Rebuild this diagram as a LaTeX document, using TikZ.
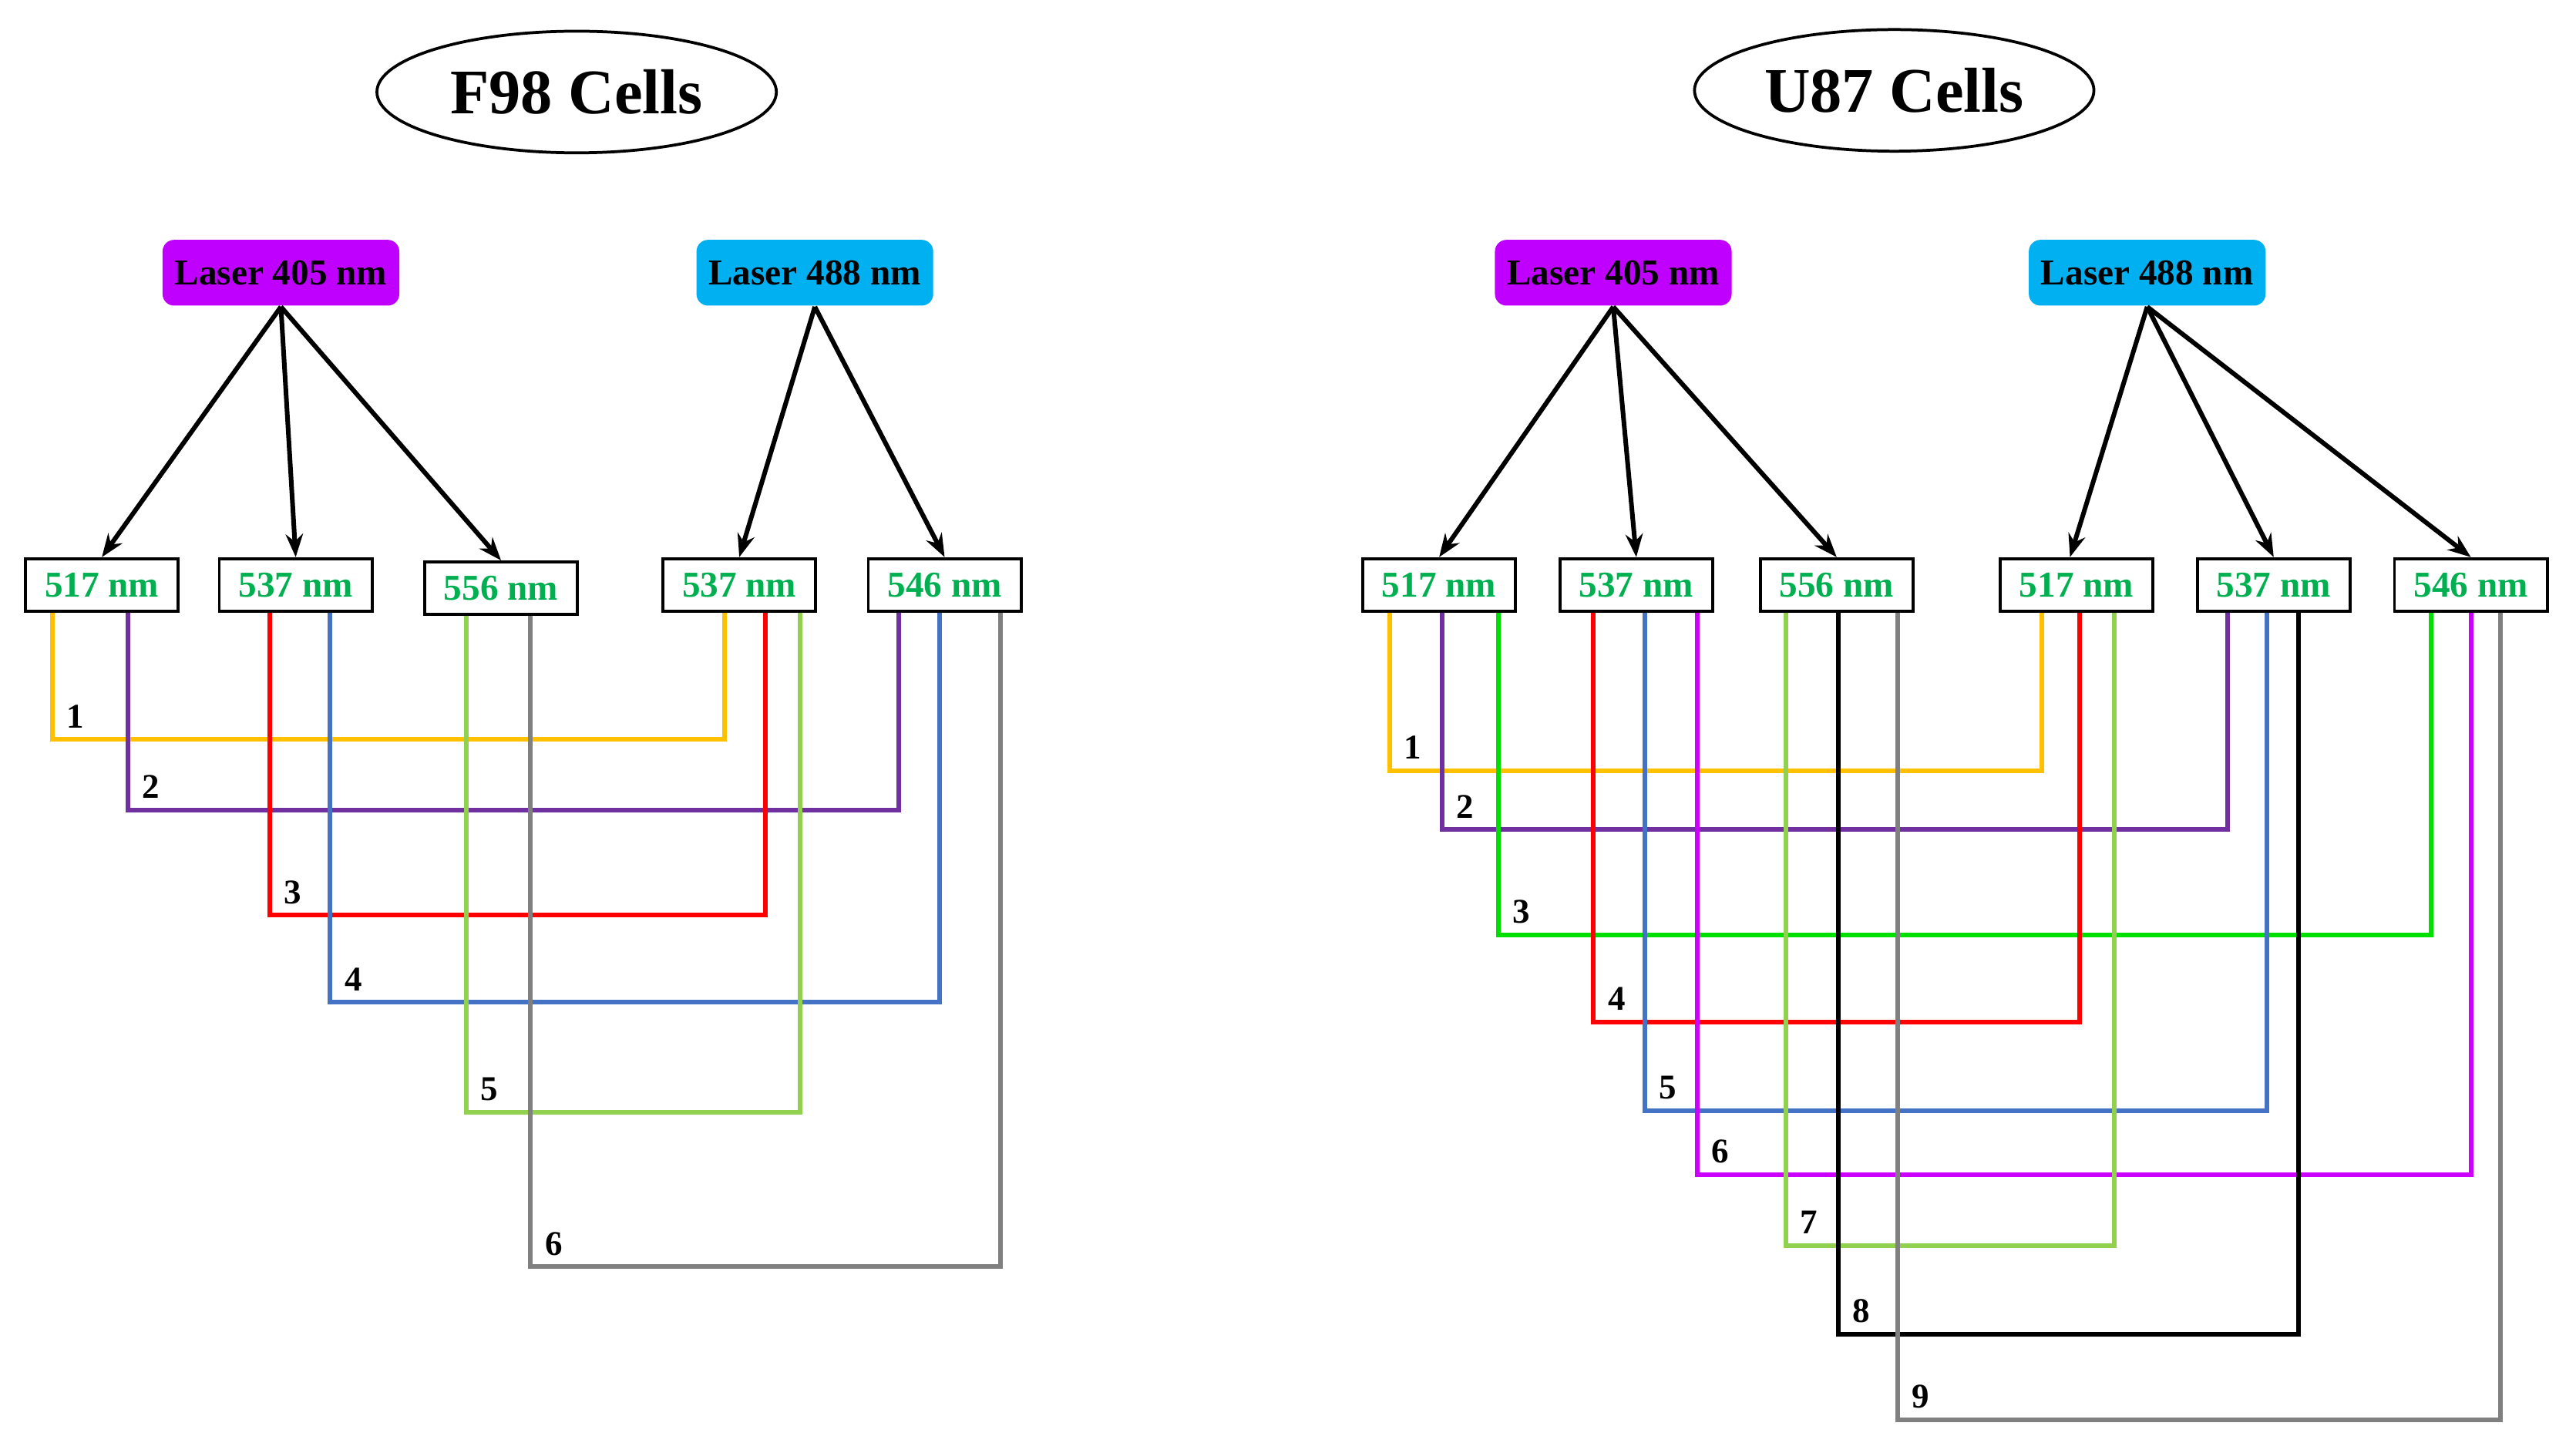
\documentclass[tikz,border=0pt]{standalone}
\usepackage{fontspec}
\setmainfont{Liberation Serif}
\usetikzlibrary{arrows.meta,shapes.geometric}
\definecolor{lpurple}{HTML}{C000FF}
\definecolor{lblue}{HTML}{00B0F0}
\definecolor{wgreen}{HTML}{00B050}
\definecolor{cy}{HTML}{FFC000}
\definecolor{cp}{HTML}{7030A0}
\definecolor{cr}{HTML}{FF0000}
\definecolor{cb}{HTML}{4472C4}
\definecolor{clg}{HTML}{92D050}
\definecolor{cgr}{HTML}{808080}
\definecolor{cg}{HTML}{00E000}
\definecolor{cmag}{HTML}{CC00FF}
\begin{document}
\begin{tikzpicture}[x=0.01cm,y=-0.01cm,
  title/.style={ellipse,draw,line width=0.5pt,minimum width=2.43cm,minimum height=0.74cm,inner sep=0pt,font=\fontsize{11}{12}\selectfont\bfseries},
  laser/.style={rounded corners=2pt,minimum width=1.44cm,minimum height=0.40cm,inner sep=0pt,font=\fontsize{6.3}{7}\selectfont\bfseries},
  wl/.style={draw,line width=0.5pt,minimum width=0.93cm,minimum height=0.32cm,inner sep=0pt,text=wgreen,font=\fontsize{6.3}{7}\selectfont\bfseries},
  arr/.style={line width=0.8pt,-{Stealth[length=4pt,width=3pt]}},
  cl/.style={line width=0.8pt},
  num/.style={font=\fontsize{6}{7}\selectfont\bfseries}]
\useasboundingbox (0,0) rectangle (1568,884);
\newcommand{\conn}[8]{%
  \draw[cl,#1] (#6.south -| #3,0) |- (#5,#4) -- (#7.south -| #5,0);
  \node[num] (n#8) at (#3+14,#4-14) {#2};}
% ---- Left
\node[title] (t1) at (351,56) {F98 Cells};
\node[laser,fill=lpurple] (a405) at (171,166) {Laser 405 nm};
\node[laser,fill=lblue] (a488) at (496,166) {Laser 488 nm};
\node[wl] (a1) at (62,356) {517 nm};
\node[wl] (a2) at (180,356) {537 nm};
\node[wl] (a3) at (305,358) {556 nm};
\node[wl] (a4) at (450,356) {537 nm};
\node[wl] (a5) at (575,356) {546 nm};
\draw[arr] (a405.south) -- (a1.north);
\draw[arr] (a405.south) -- (a2.north);
\draw[arr] (a405.south) -- (a3.north);
\draw[arr] (a488.south) -- (a4.north);
\draw[arr] (a488.south) -- (a5.north);
\conn{cy}{1}{32}{450}{441}{a1}{a4}{L1}
\conn{cp}{2}{78}{493}{547}{a1}{a5}{L2}
\conn{cr}{3}{164}{557}{466}{a2}{a4}{L3}
\conn{cb}{4}{201}{610}{572}{a2}{a5}{L4}
\conn{clg}{5}{284}{677}{487}{a3}{a4}{L5}
\conn{cgr}{6}{323}{771}{609}{a3}{a5}{L6}
% ---- Right
\node[title] (t2) at (1153,55) {U87 Cells};
\node[laser,fill=lpurple] (b405) at (982,166) {Laser 405 nm};
\node[laser,fill=lblue] (b488) at (1307,166) {Laser 488 nm};
\node[wl] (b1) at (876,356) {517 nm};
\node[wl] (b2) at (996,356) {537 nm};
\node[wl] (b3) at (1118,356) {556 nm};
\node[wl] (b4) at (1264,356) {517 nm};
\node[wl] (b5) at (1384,356) {537 nm};
\node[wl] (b6) at (1504,356) {546 nm};
\draw[arr] (b405.south) -- (b1.north);
\draw[arr] (b405.south) -- (b2.north);
\draw[arr] (b405.south) -- (b3.north);
\draw[arr] (b488.south) -- ([xshift=-0.04cm]b4.north);
\draw[arr] (b488.south) -- (b5.north);
\draw[arr] (b488.south) -- (b6.north);
\conn{cy}{1}{846}{469}{1243}{b1}{b4}{R1}
\conn{cp}{2}{878}{505}{1356}{b1}{b5}{R2}
\conn{cg}{3}{912}{569}{1480}{b1}{b6}{R3}
\conn{cr}{4}{970}{622}{1266}{b2}{b4}{R4}
\conn{cb}{5}{1001}{676}{1380}{b2}{b5}{R5}
\conn{cmag}{6}{1033}{715}{1504}{b2}{b6}{R6}
\conn{clg}{7}{1087}{758}{1287}{b3}{b4}{R7}
\conn{black}{8}{1119}{812}{1399}{b3}{b5}{R8}
\conn{cgr}{9}{1155}{864}{1522}{b3}{b6}{R9}
\end{tikzpicture}
\end{document}
